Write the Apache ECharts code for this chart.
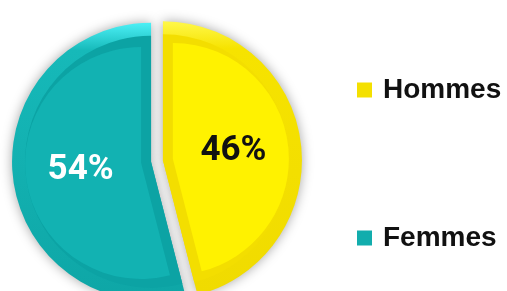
<!DOCTYPE html>
<html><head><meta charset="utf-8">
<script src="https://cdn.jsdelivr.net/npm/echarts@6/dist/echarts.min.js"></script>
<style>html,body{margin:0;padding:0;background:#fff}#c{width:507px;height:291px}</style>
</head><body><div id="c"></div>
<script>
const categories = ['Hommes', 'Femmes'];
const values = [46, 54];
const labelColors = ['#111111', '#ffffff'];
const mainColors = ['#fff200', '#12b2b2'];
const bevelColors = ['#f3de00', '#0ca3a4'];
const legendColors = ['#f4e000', '#12adad'];

const rimColors = [
  {type:'linear', x:0, y:0, x2:0, y2:1, colorStops:[{offset:0,color:'#fff84a'},{offset:0.1,color:'#f6e300'},{offset:1,color:'#f0db00'}]},
  {type:'linear', x:0, y:0, x2:0, y2:1, colorStops:[{offset:0,color:'#4cf0f6'},{offset:0.1,color:'#16b9b9'},{offset:1,color:'#0ea6a6'}]}
];

const CENTER = [157, 161];

function layer(radius, offset, colors, opts) {
  return Object.assign({
    type: 'pie',
    center: CENTER,
    radius: radius,
    startAngle: 90,
    clockwise: true,
    selectedMode: 'multiple',
    selectedOffset: offset,
    avoidLabelOverlap: false,
    emphasis: {disabled: true},
    label: {show: false},
    labelLine: {show: false},
    data: categories.map((n, i) => ({
      name: n, value: values[i], selected: true,
      itemStyle: {color: colors[i]}
    }))
  }, opts || {});
}

const chart = echarts.init(document.getElementById('c'), null, {renderer: 'canvas'});
const rimSeries = layer([0, 139], 6, rimColors, {
  itemStyle: {shadowBlur: 12, shadowColor: 'rgba(0,0,0,0.35)'}
});
const bevelSeries = layer([0, 126], 6, bevelColors);
const mainSeries = layer([0, 116], 16, mainColors);
mainSeries.data.forEach((d, i) => {
  d.label = {
    show: true, position: 'inside',
    formatter: values[i] + '%',
    color: labelColors[i],
    fontSize: 35, fontWeight: 'bold',
    fontFamily: 'Roboto',
    padding: [9, 0, 0, 0]
  };
});

const legendText = {fontSize: 28, fontWeight: 'bold', color: '#111', fontFamily: 'Liberation Sans', padding: [0,0,0,6]};
chart.setOption({
  animation: false,
  backgroundColor: '#ffffff',
  legend: categories.map((n, i) => ({
    data: [{name: n, itemStyle: {color: legendColors[i]}}],
    left: 357, top: [76, 224][i], padding: 0,
    icon: 'rect', itemWidth: 15, itemHeight: 15,
    selectedMode: false,
    textStyle: legendText
  })),
  series: [rimSeries, bevelSeries, mainSeries]
});
</script></body></html>
